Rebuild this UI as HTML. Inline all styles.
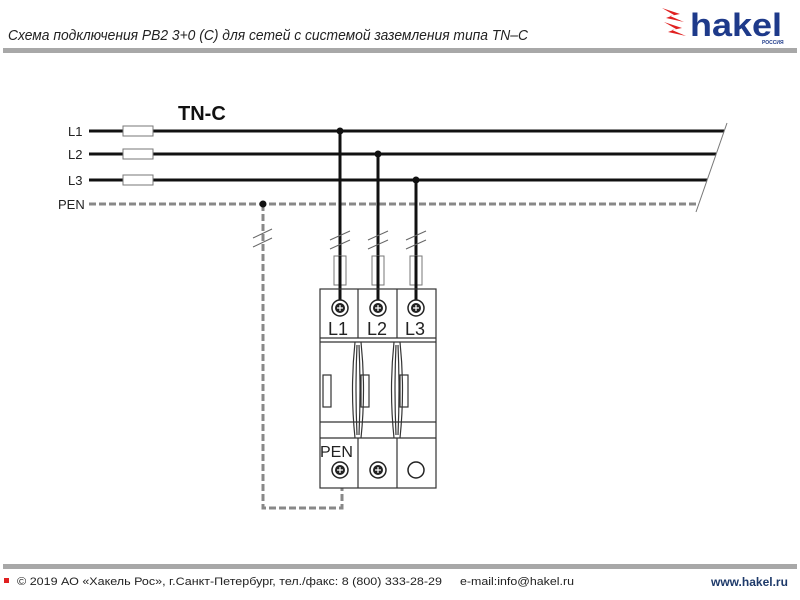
<!DOCTYPE html>
<html><head><meta charset="utf-8"><style>
body{margin:0;width:800px;height:600px;background:#fff;overflow:hidden;font-family:"Liberation Sans","DejaVu Sans",sans-serif}
</style></head><body>
<svg width="800" height="600" xmlns="http://www.w3.org/2000/svg" style="position:absolute;left:0;top:0">
<text x="8" y="40" font-family="Liberation Sans, DejaVu Sans, sans-serif" font-style="italic" font-size="15" fill="#222" textLength="520" lengthAdjust="spacingAndGlyphs">Схема подключения РВ2 3+0 (C) для сетей с системой заземления типа TN–C</text>
<rect x="3" y="48" width="794" height="5" fill="#a8a8a8"/>
<polygon points="662,8 680,14 670,16 684,22 666,18 674,15" fill="#e02020"/>
<polygon points="664,22 682,28 672,30 686,36 668,32 676,29" fill="#e02020"/>
<text x="690" y="36" font-family="Liberation Sans, sans-serif" font-weight="bold" font-size="32" fill="#1e3a8a" textLength="92" lengthAdjust="spacingAndGlyphs">hakel</text>
<text x="762" y="44" font-family="Liberation Sans, sans-serif" font-weight="bold" font-size="5" fill="#1e3a8a">РОССИЯ</text>

<text x="178" y="120" font-weight="bold" font-size="20" fill="#111">TN-C</text>
<g font-size="13" fill="#222">
<text x="68" y="136">L1</text><text x="68" y="159">L2</text><text x="68" y="185">L3</text><text x="58" y="209">PEN</text>
</g>
<g stroke="#111" stroke-width="3">
<line x1="89" y1="131" x2="724" y2="131"/>
<line x1="89" y1="154" x2="716" y2="154"/>
<line x1="89" y1="180" x2="707" y2="180"/>
</g>
<line x1="727" y1="123" x2="696" y2="212" stroke="#777" stroke-width="1"/>
<g fill="#fff" stroke="#777" stroke-width="1">
<rect x="123" y="126" width="30" height="10"/><rect x="123" y="149" width="30" height="10"/><rect x="123" y="175" width="30" height="10"/>
</g>
<line x1="89" y1="204" x2="698" y2="204" stroke="#888" stroke-width="3" stroke-dasharray="7,3"/>
<polyline points="263,204 263,508 342,508 342,488" fill="none" stroke="#888" stroke-width="3" stroke-dasharray="7,3"/>
<g fill="#111"><circle cx="340" cy="131" r="3.5"/><circle cx="378" cy="154" r="3.5"/><circle cx="416" cy="180" r="3.5"/><circle cx="263" cy="204" r="3.5"/></g>
<g stroke="#111" stroke-width="3">
<line x1="340" y1="131" x2="340" y2="307"/><line x1="378" y1="154" x2="378" y2="307"/><line x1="416" y1="180" x2="416" y2="307"/>
</g>
<g stroke="#666" stroke-width="1">
<line x1="253" y1="238" x2="272" y2="229"/><line x1="253" y1="247" x2="272" y2="238"/>
<line x1="330" y1="240" x2="350" y2="231"/><line x1="330" y1="249" x2="350" y2="240"/>
<line x1="368" y1="240" x2="388" y2="231"/><line x1="368" y1="249" x2="388" y2="240"/>
<line x1="406" y1="240" x2="426" y2="231"/><line x1="406" y1="249" x2="426" y2="240"/>
</g>
<g fill="none" stroke="#777" stroke-width="1">
<rect x="334" y="256" width="12" height="29"/><rect x="372" y="256" width="12" height="29"/><rect x="410" y="256" width="12" height="29"/>
</g>
<line x1="340" y1="256" x2="340" y2="307" stroke="#111" stroke-width="3"/>
<line x1="378" y1="256" x2="378" y2="307" stroke="#111" stroke-width="3"/>
<line x1="416" y1="256" x2="416" y2="307" stroke="#111" stroke-width="3"/>
<g fill="none" stroke="#333" stroke-width="1.2">
<rect x="320" y="289" width="116" height="199"/>
<line x1="358" y1="289" x2="358" y2="338"/><line x1="397" y1="289" x2="397" y2="338"/>
<line x1="358" y1="438" x2="358" y2="488"/><line x1="397" y1="438" x2="397" y2="488"/>
<line x1="320" y1="338" x2="436" y2="338"/><line x1="320" y1="438" x2="436" y2="438"/>
<line x1="320" y1="342" x2="436" y2="342"/><line x1="320" y1="422" x2="436" y2="422"/>
<path d="M355,342 Q350,390 355,438 M361,342 Q366,390 361,438 M394,342 Q389,390 394,438 M400,342 Q405,390 400,438"/>
<path d="M357,345 Q355,390 357,435 M359,345 Q361,390 359,435 M396,345 Q394,390 396,435 M398,345 Q400,390 398,435"/>
<rect x="323" y="375" width="8" height="32"/><rect x="361" y="375" width="8" height="32"/><rect x="400" y="375" width="8" height="32"/>
</g>
<g stroke="#222" stroke-width="1.5" fill="#fff">
<circle cx="340" cy="308" r="8"/><circle cx="378" cy="308" r="8"/><circle cx="416" cy="308" r="8"/>
<circle cx="340" cy="470" r="8"/><circle cx="378" cy="470" r="8"/><circle cx="416" cy="470" r="8"/>
</g>
<g fill="#222">
<circle cx="340" cy="308" r="5"/><circle cx="378" cy="308" r="5"/><circle cx="416" cy="308" r="5"/>
<circle cx="340" cy="470" r="5"/><circle cx="378" cy="470" r="5"/>
</g>
<g stroke="#fff" stroke-width="1.2">
<path d="M337,308h6M340,305v6M375,308h6M378,305v6M413,308h6M416,305v6M337,470h6M340,467v6M375,470h6M378,467v6"/>
</g>
<g font-size="18" fill="#222">
<text x="328" y="335">L1</text><text x="367" y="335">L2</text><text x="405" y="335">L3</text>
<text x="320" y="457" font-size="16">PEN</text>
</g>
<rect x="3" y="564" width="794" height="5" fill="#a8a8a8"/>
<rect x="4" y="578" width="5" height="5" fill="#e02020"/>
<text x="17" y="585" font-family="Liberation Sans, sans-serif" font-size="11" fill="#222" textLength="425" lengthAdjust="spacingAndGlyphs">© 2019 АО «Хакель Рос», г.Санкт-Петербург, тел./факс: 8 (800) 333-28-29</text>
<text x="460" y="585" font-family="Liberation Sans, sans-serif" font-size="11" fill="#222" textLength="114" lengthAdjust="spacingAndGlyphs">e-mail:info@hakel.ru</text>
<text x="711" y="586" font-weight="bold" font-size="12" fill="#1e3a6a">www.hakel.ru</text>
</svg>
</body></html>
